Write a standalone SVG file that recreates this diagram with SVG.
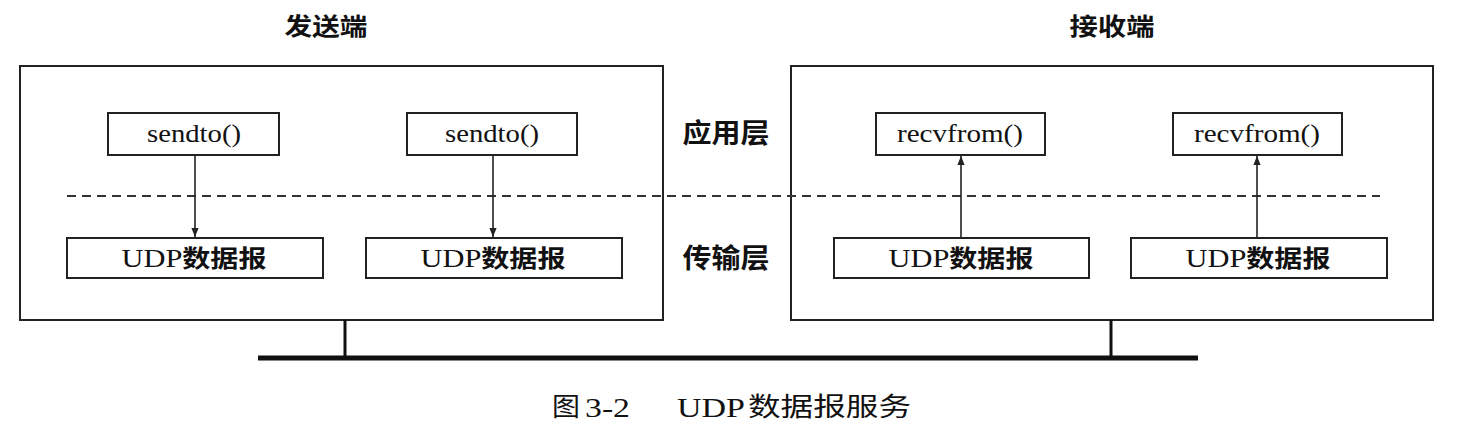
<svg xmlns="http://www.w3.org/2000/svg" width="1463" height="429" viewBox="0 0 1463 429">
<style>
.frame{fill:none;stroke:#222;stroke-width:2}
.box{fill:#fff;stroke:#222;stroke-width:2}
.en{font-family:"Liberation Serif","Noto Sans CJK SC",serif;font-size:25px;fill:#111}
.cj{font-family:"Noto Sans CJK SC",sans-serif;font-weight:bold;font-size:24px;fill:#111}
.cap{font-family:"Noto Sans CJK SC",sans-serif;font-weight:normal;font-size:26px;fill:#111}
.capen{font-family:"Liberation Serif",serif;font-size:28px;fill:#111}
.conn{stroke:#222;stroke-width:1.6;fill:none}
</style>
<defs>
<marker id="ah" viewBox="0 0 10 10" refX="10" refY="5" markerWidth="9" markerHeight="9" markerUnits="userSpaceOnUse" orient="auto">
<path d="M0,1 L10,5 L0,9 Z" fill="#222"/>
</marker>
</defs>
<rect width="1463" height="429" fill="#fff"/>

<g id="sender">
<text class="cj" x="326" y="35" text-anchor="middle" textLength="83" lengthAdjust="spacingAndGlyphs">发送端</text>
<rect class="frame" x="20" y="66" width="643" height="254"/>
</g>
<g id="receiver">
<text class="cj" x="1112" y="35" text-anchor="middle" textLength="85" lengthAdjust="spacingAndGlyphs">接收端</text>
<rect class="frame" x="791" y="66" width="642" height="254"/>
</g>

<g id="layer-labels">
<text class="cj" x="726" y="143" text-anchor="middle" font-size="27" style="font-size:27px" textLength="87" lengthAdjust="spacingAndGlyphs">应用层</text>
<text class="cj" x="726" y="268" text-anchor="middle" style="font-size:27px" textLength="87" lengthAdjust="spacingAndGlyphs">传输层</text>
</g>

<g id="s-app1"><rect class="box" x="108" y="113" width="171" height="42"/><text class="en" x="194" y="142" text-anchor="middle" textLength="94" lengthAdjust="spacingAndGlyphs">sendto()</text></g>
<g id="s-app2"><rect class="box" x="407" y="113" width="170" height="42"/><text class="en" x="492" y="142" text-anchor="middle" textLength="94" lengthAdjust="spacingAndGlyphs">sendto()</text></g>
<g id="r-app1"><rect class="box" x="876" y="113" width="169" height="42"/><text class="en" x="960" y="142" text-anchor="middle" textLength="126" lengthAdjust="spacingAndGlyphs">recvfrom()</text></g>
<g id="r-app2"><rect class="box" x="1173" y="113" width="169" height="42"/><text class="en" x="1257" y="142" text-anchor="middle" textLength="126" lengthAdjust="spacingAndGlyphs">recvfrom()</text></g>

<g id="s-udp1"><rect class="box" x="67" y="238" width="256" height="40"/><text x="194" y="267" text-anchor="middle" textLength="145" lengthAdjust="spacingAndGlyphs"><tspan class="en" style="font-size:26px">UDP</tspan><tspan class="cj">数据报</tspan></text></g>
<g id="s-udp2"><rect class="box" x="366" y="238" width="256" height="40"/><text x="493" y="267" text-anchor="middle" textLength="145" lengthAdjust="spacingAndGlyphs"><tspan class="en" style="font-size:26px">UDP</tspan><tspan class="cj">数据报</tspan></text></g>
<g id="r-udp1"><rect class="box" x="834" y="238" width="255" height="40"/><text x="961" y="267" text-anchor="middle" textLength="145" lengthAdjust="spacingAndGlyphs"><tspan class="en" style="font-size:26px">UDP</tspan><tspan class="cj">数据报</tspan></text></g>
<g id="r-udp2"><rect class="box" x="1131" y="238" width="256" height="40"/><text x="1258" y="267" text-anchor="middle" textLength="145" lengthAdjust="spacingAndGlyphs"><tspan class="en" style="font-size:26px">UDP</tspan><tspan class="cj">数据报</tspan></text></g>

<g id="connectors">
<line x1="67" y1="196" x2="1380" y2="196" stroke="#333" stroke-width="2" stroke-dasharray="9,6"/>
<line class="conn" x1="195" y1="155" x2="195" y2="237" marker-end="url(#ah)"/>
<line class="conn" x1="493" y1="155" x2="493" y2="237" marker-end="url(#ah)"/>
<line class="conn" x1="961" y1="238" x2="961" y2="156" marker-end="url(#ah)"/>
<line class="conn" x1="1257" y1="238" x2="1257" y2="156" marker-end="url(#ah)"/>
<line x1="345" y1="320" x2="345" y2="358" stroke="#111" stroke-width="3"/>
<line x1="1111" y1="320" x2="1111" y2="358" stroke="#111" stroke-width="3"/>
<line x1="258" y1="358" x2="1198" y2="358" stroke="#111" stroke-width="5"/>
</g>

<g id="caption">
<text class="cap" x="552" y="416" textLength="28" lengthAdjust="spacingAndGlyphs">图</text>
<text class="capen" x="585" y="417" textLength="45" lengthAdjust="spacingAndGlyphs">3-2</text>
<text class="capen" x="677" y="417" textLength="68" lengthAdjust="spacingAndGlyphs">UDP</text>
<text class="cap" x="748" y="416" textLength="163" lengthAdjust="spacingAndGlyphs">数据报服务</text>
</g>
</svg>
